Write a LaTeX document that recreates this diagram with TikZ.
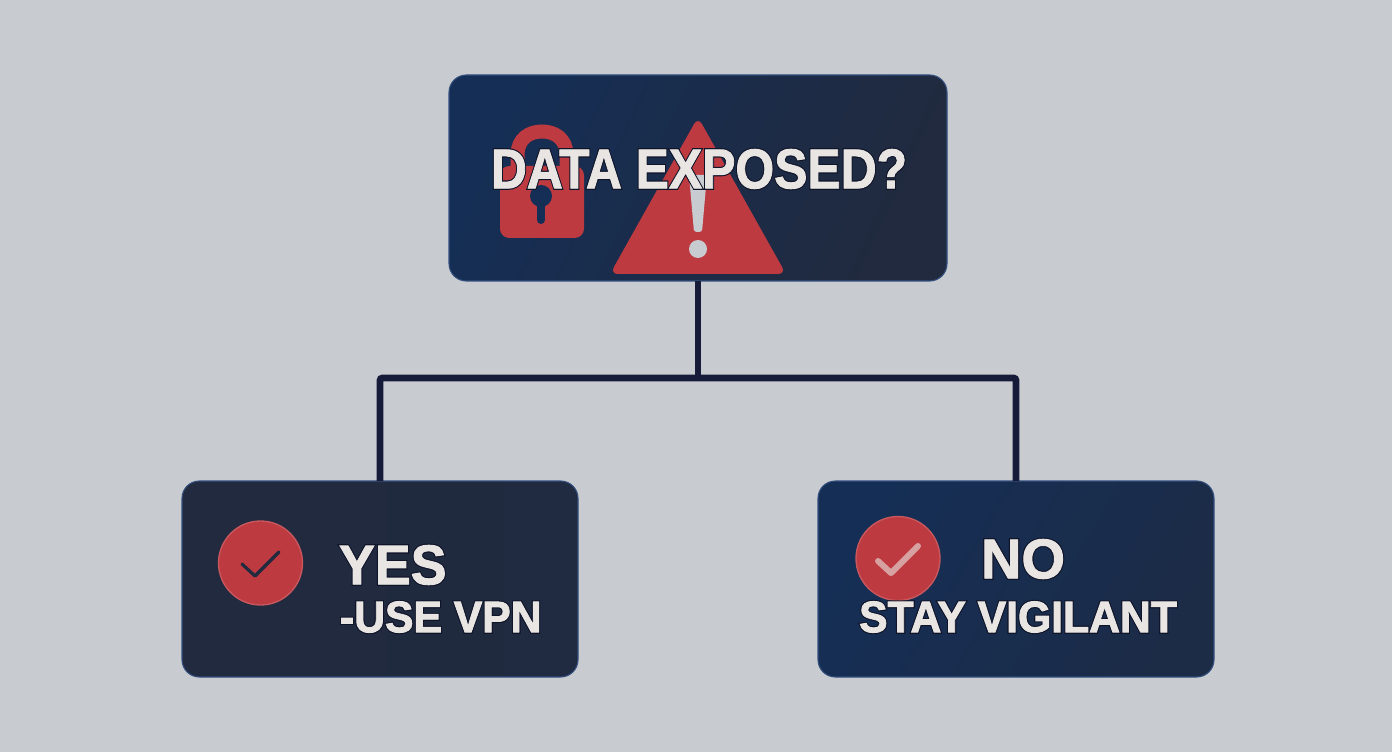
\documentclass[tikz,border=0pt]{standalone}
\usepackage{fontspec}
\setmainfont{Liberation Sans}
\definecolor{bgin}{HTML}{C8CBD0}
\definecolor{deepblue}{HTML}{152E55}
\definecolor{slate}{HTML}{212A3E}
\definecolor{edgeblue}{HTML}{34507F}
\definecolor{alert}{HTML}{BE3A41}
\definecolor{linkdark}{HTML}{161B3A}
\definecolor{paper}{HTML}{E8E5E3}
\newcommand{\outlined}[1]{\rlap{\special{pdf:code 2 Tr 2.4 w 0.06 0.08 0.16 RG}#1\special{pdf:code 0 Tr}}%
  \special{pdf:code 2 Tr 0.7 w 0.91 0.9 0.89 RG}#1\special{pdf:code 0 Tr}}

\begin{document}
\begin{tikzpicture}[x=0.75pt,y=-0.75pt,
  every node/.append style={inner sep=0pt,outer sep=0pt}]
  \tikzstyle{box} = [rectangle,rounded corners=13pt,draw=edgeblue,line width=0.8pt,
    minimum width=297pt,minimum height=147pt,shading=axis]
  \tikzstyle{link} = [draw=linkdark,line width=5.2pt,rounded corners=2pt]
  \tikzstyle{badge} = [circle,fill=alert,draw=alert!85!white,line width=1pt,minimum size=63pt]
  \tikzstyle{title} = [font=\bfseries\fontsize{42}{42}\selectfont,color=paper,xscale=0.89,transform shape]
  \tikzstyle{big} = [font=\bfseries\fontsize{42}{42}\selectfont,color=paper]
  \tikzstyle{small} = [font=\bfseries\fontsize{33}{33}\selectfont,color=paper,xscale=0.97,transform shape]

  \fill[bgin] (0,0) rectangle (1392,752);
  \useasboundingbox (0,0) rectangle (1392,752);

  \node (1_1) [box,minimum width=373.5pt,minimum height=154.5pt,
    left color=deepblue,right color=slate,shading angle=65] at (698,178) {};
  \node (1_2) [box,left color=slate,right color=slate!92!deepblue] at (380,579) {};
  \node (1_3) [box,left color=deepblue,right color=slate!60!deepblue,shading angle=60] at (1016,579) {};
  \coordinate (1_4) at (698,378);

  \draw[link] (1_1.south) -- (1_4);
  \draw[link] (1_2.north) |- (1_4) -| (1_3.north);

  % lock
  \draw[alert,line width=10.5pt] (517.5,185) -- (517.5,155) .. controls (517.5,138) and (530,131.5) .. (542,131.5)
    .. controls (554,131.5) and (566.5,138) .. (566.5,155) -- (566.5,185);
  \fill[alert,rounded corners=7pt] (500,166) rectangle (584,238);
  \fill[deepblue] (541,196) circle[radius=11];
  \draw[deepblue,line width=6pt,line cap=round] (541,200) -- (541,220);

  % warning sign
  \fill[alert,rounded corners=6pt] (698,117) -- (786,274) -- (610,274) -- cycle;
  \fill[bgin,rounded corners=2pt] (689,175) -- (707,175) -- (702,232) -- (694,232) -- cycle;
  \fill[bgin] (698,249) circle[radius=9];

  \node (1_5) [title] at (699,169) {\outlined{DATA EXPOSED?}};

  \node (2_1) [badge] at (260.5,563) {};
  \draw[slate,line width=2.4pt,line cap=round,line join=round] (242,564) -- (255,576) -- (279,552);
  \node (2_2) [big,anchor=west,xscale=0.96,transform shape] at (339,565) {\outlined{YES}};
  \node (2_3) [small,anchor=west] at (340,617) {\outlined{-USE VPN}};

  \node (3_1) [badge] at (898,558.5) {};
  \draw[paper!60!alert,line width=4.5pt,line cap=round,line join=round] (878,561) -- (891,573) -- (918,546);
  \node (3_2) [big] at (1023,559) {\outlined{NO}};
  \node (3_3) [small] at (1018,617) {\outlined{STAY VIGILANT}};
\end{tikzpicture}
\end{document}
